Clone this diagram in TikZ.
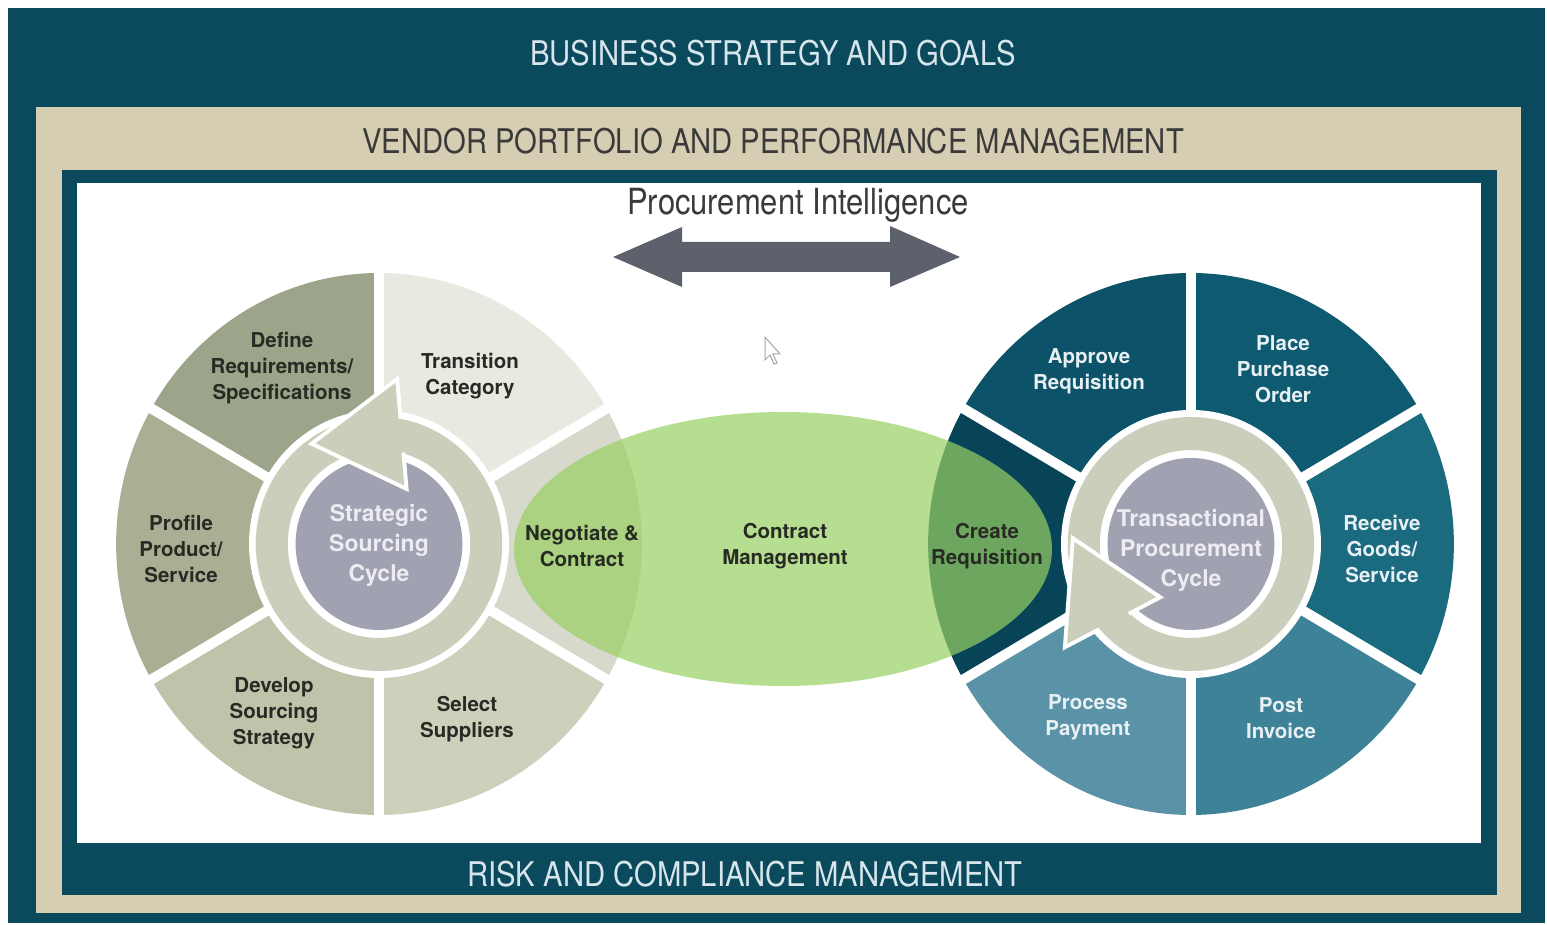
\documentclass[tikz,border=0pt]{standalone}
\usepackage{fontspec}
\setmainfont{TeX Gyre Heros}
\newfontfamily\bandfont[FakeStretch=0.86]{TeX Gyre Heros}
\usepackage{tikz}
\usetikzlibrary{calc}
\tikzset{>=latex}
\definecolor{myteal}{RGB}{11, 74, 93}
\definecolor{mybeige}{RGB}{214, 206, 178}
\definecolor{mylight}{RGB}{214, 230, 236}
\definecolor{mygraytext}{RGB}{58, 58, 58}
\definecolor{myarrow}{RGB}{93, 97, 107}
\definecolor{ldefine}{RGB}{156, 164, 137}
\definecolor{lprofile}{RGB}{168, 175, 147}
\definecolor{ldevelop}{RGB}{190, 196, 170}
\definecolor{lselect}{RGB}{204, 209, 188}
\definecolor{lnegot}{RGB}{214, 217, 204}
\definecolor{ltrans}{RGB}{232, 233, 225}
\definecolor{rapprove}{RGB}{12, 82, 104}
\definecolor{rplace}{RGB}{14, 90, 112}
\definecolor{rreceive}{RGB}{26, 106, 128}
\definecolor{rpost}{RGB}{62, 130, 151}
\definecolor{rprocess}{RGB}{90, 147, 168}
\definecolor{rcreate}{RGB}{8, 68, 87}
\definecolor{ringfill}{RGB}{201, 207, 187}
\definecolor{hubfill}{RGB}{160, 162, 177}
\definecolor{mygreen}{RGB}{152, 208, 98}
\definecolor{darktext}{RGB}{40, 42, 36}
\definecolor{paletext}{RGB}{232, 240, 243}
\definecolor{hubtext}{RGB}{236, 236, 242}
\tikzset{
  bandtitle/.style={font=\bandfont\fontsize{34}{38}\selectfont},
  steptext/.style={font=\bfseries\fontsize{20.5}{26}\selectfont, align=center},
  hubname/.style={font=\bfseries\fontsize{23}{30}\selectfont, align=center, text=hubtext},
}

\begin{document}
\begin{tikzpicture}[x=1pt, y=1pt]
\useasboundingbox (0,0) rectangle (1547,925);
\fill[white] (0,0) rectangle (1547,925);

% nested frames
\fill[myteal] (8,2) rectangle (1545,917);
\fill[mybeige] (36,12) rectangle (1521,818);
\fill[myteal] (62,30) rectangle (1497,755);
\fill[white] (77,82) rectangle (1481,742);

\node[bandtitle, text=mylight] (goals) at (773,872) {BUSINESS STRATEGY AND GOALS};
\node[bandtitle, text=mygraytext] (vendor) at (773,784) {VENDOR PORTFOLIO AND PERFORMANCE MANAGEMENT};
\node[bandtitle, text=mygraytext, font=\bandfont\fontsize{36}{40}\selectfont] (intel) at (798,720) {Procurement Intelligence};
\node[bandtitle, text=mylight] (risk) at (745,51) {RISK AND COMPLIANCE MANAGEMENT};

% two-headed arrow
\fill[myarrow] (613,668) -- (682,698) -- (682,683) -- (890,683) -- (890,699)
  -- (960,668) -- (890,638) -- (890,653) -- (682,653) -- (682,638) -- cycle;

% pointer
\draw[gray!70, fill=white, line width=1] (765,588) -- (765,565) -- (770,570) -- (774,561)
  -- (777,562) -- (773,571) -- (780,571) -- cycle;

% strategic sourcing wheel
\begin{scope}[shift={(379,381)}, xscale=0.97]
\foreach \a/\c in {30/ltrans, 90/ldefine, 150/lprofile, 210/ldevelop, 270/lselect, 330/lnegot}
  \fill[\c] (0,0) -- (\a:271) arc[start angle=\a, delta angle=60, radius=271] -- cycle;
\foreach \a in {30,90,...,330}
  \draw[white, line width=10] (0,0) -- (\a:276);
\fill[white] (0,0) circle (134);
\fill[ringfill, even odd rule] (0,0) circle (127) (0,0) circle (94);
\fill[hubfill] (0,0) circle (86);
\coordinate (ltip) at (123:120);
\coordinate (lout) at (84:162);
\coordinate (lin) at (66:64);
\draw[white, line width=8] ($(lout)!0.35!(lin)$) -- (lout) -- (ltip) -- (lin) -- ($(lout)!0.68!(lin)$);
\fill[ringfill] (lout) -- (ltip) -- (lin) -- cycle;
\end{scope}

% transactional procurement wheel
\begin{scope}[shift={(1191,381)}, xscale=0.97]
\foreach \a/\c in {30/rplace, 90/rapprove, 150/rcreate, 210/rprocess, 270/rpost, 330/rreceive}
  \fill[\c] (0,0) -- (\a:271) arc[start angle=\a, delta angle=60, radius=271] -- cycle;
\foreach \a in {30,90,...,330}
  \draw[white, line width=10] (0,0) -- (\a:276);
\fill[white] (0,0) circle (134);
\fill[ringfill, even odd rule] (0,0) circle (127) (0,0) circle (94);
\fill[hubfill] (0,0) circle (86);
\coordinate (rtip) at (179:120);
\coordinate (rout) at (218:162);
\coordinate (rin) at (236:64);
\draw[white, line width=8] ($(rout)!0.35!(rin)$) -- (rout) -- (rtip) -- (rin) -- ($(rout)!0.68!(rin)$);
\fill[ringfill] (rout) -- (rtip) -- (rin) -- cycle;
\end{scope}

% contract management overlap
\fill[mygreen, opacity=0.7] (783,376) ellipse [x radius=269, y radius=137];

\node[steptext, text=darktext] (define) at (282,557) {Define\\Requirements/\\Specifications};
\node[steptext, text=darktext] (transition) at (470,549) {Transition\\Category};
\node[steptext, text=darktext] (profile) at (181,376) {Profile\\Product/\\Service};
\node[steptext, text=darktext] (develop) at (274,212) {Develop\\Sourcing\\Strategy};
\node[steptext, text=darktext] (select) at (467,206) {Select\\Suppliers};
\node[steptext, text=darktext] (negotiate) at (582,379) {Negotiate \&\\Contract};
\node[hubname] (sourcing) at (379,380) {Strategic\\Sourcing\\Cycle};

\node[steptext, text=darktext] (contract) at (785,379) {Contract\\Management};
\node[steptext, text=darktext] (create) at (987,379) {Create\\Requisition};

\node[steptext, text=paletext] (approve) at (1089,554) {Approve\\Requisition};
\node[steptext, text=paletext] (place) at (1283,556) {Place\\Purchase\\Order};
\node[steptext, text=paletext] (receive) at (1382,376) {Receive\\Goods/\\Service};
\node[steptext, text=paletext] (post) at (1281,207) {Post\\Invoice};
\node[steptext, text=paletext] (process) at (1088,208) {Process\\Payment};
\node[hubname] (transact) at (1191,375) {Transactional\\Procurement\\Cycle};

\end{tikzpicture}
\end{document}
